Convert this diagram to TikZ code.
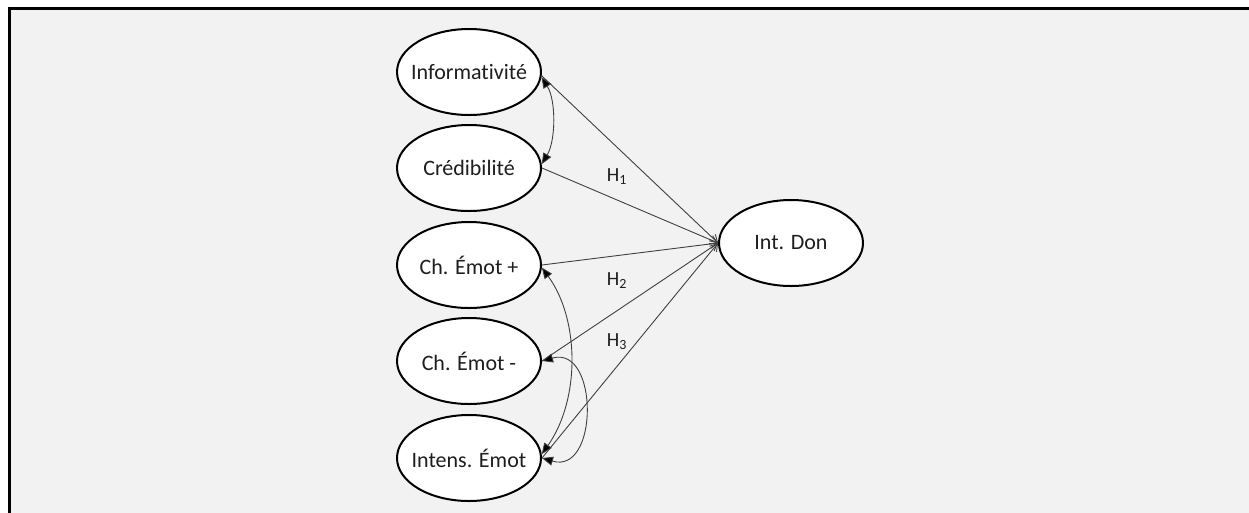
\documentclass[tikz,border=0pt]{standalone}
\usepackage{fontspec}
\setmainfont{Carlito}[Ligatures=NoCommon]
\usetikzlibrary{arrows.meta,shapes.geometric}
\definecolor{bg}{HTML}{F2F2F2}
\definecolor{ln}{HTML}{404040}
\definecolor{txt}{HTML}{1E1E1E}
\begin{document}
\begin{tikzpicture}[x=1pt,y=-1pt,
  var/.style={ellipse, draw=black, line width=2pt, fill=white, minimum width=144pt, minimum height=86pt, inner xsep=-16pt, inner ysep=0pt, text=txt, font=\fontsize{22}{26}\selectfont},
  pathlink/.style={draw=ln, line width=0.9pt, -{Straight Barb[length=7pt,width=9pt]}},
  cov/.style={draw=ln, line width=0.9pt, {Triangle[length=11pt,width=9pt,fill=black]}-{Triangle[length=11pt,width=9pt,fill=black]}},
  hlab/.style={text=txt, font=\fontsize{20}{24}\selectfont, inner sep=0pt}
]
\useasboundingbox (0,0) rectangle (1249,512);
\begin{scope}
\clip (0,0) rectangle (1249,512);
\draw[line width=3pt, fill=bg] (9.5,8.5) rectangle (1300,560);
\end{scope}

\node[var] (inf) at (469,72) {Informativité};
\node[var] (cred) at (469,168) {Crédibilité};
\node[var] (cp) at (469,265) {Ch. Émot +};
\node[var] (cm) at (469,361) {Ch. Émot -};
\node[var] (ie) at (469,458) {Intens. Émot};
\node[var] (don) at (791,243) {Int. Don};

\draw[pathlink] (inf.-3) -- (don.west);
\draw[pathlink] (cred.east) -- (don.west);
\draw[pathlink] (cp.east) -- (don.west);
\draw[pathlink] (cm.east) -- (don.west);
\draw[pathlink] (ie.east) -- (don.west);

\draw[cov] (inf.-4) .. controls (556,100) and (556,140) .. (cred.3);
\draw[cov] (cp.-2) .. controls (580,320) and (580,400) .. (ie.3);
\draw[cov] (cm.0) .. controls (599,345) and (599,475) .. (ie.0);

\node[hlab] (h1) at (617,177) {H\textsubscript{1}};
\node[hlab] (h2) at (617,281) {H\textsubscript{2}};
\node[hlab] (h3) at (617,342) {H\textsubscript{3}};
\end{tikzpicture}
\end{document}
